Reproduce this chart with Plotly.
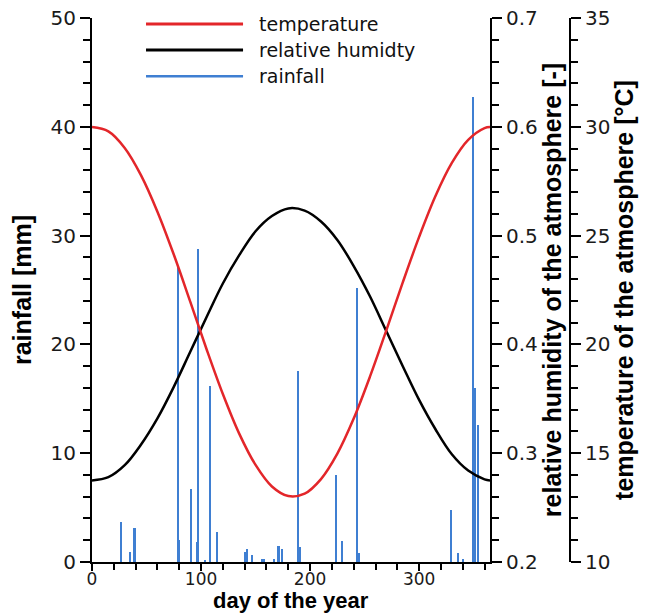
import plotly.graph_objects as go

# ---------------- data ----------------
curve_days = [0, 15, 30, 45, 60, 75, 90, 105, 120, 135, 150, 165, 180,
              195, 210, 225, 240, 255, 270, 285, 300, 315, 330, 345, 360, 365]
temperature = [29.99, 29.79, 29.03, 27.77, 26.10, 24.13, 21.98, 19.79, 17.72,
               15.90, 14.46, 13.47, 13.03, 13.14, 13.81, 14.98, 16.59, 18.53,
               20.66, 22.85, 24.94, 26.82, 28.34, 29.40, 29.94, 29.99]
humidity = [0.275, 0.278, 0.289, 0.308, 0.332, 0.361, 0.393, 0.425, 0.456,
            0.482, 0.504, 0.518, 0.525, 0.523, 0.513, 0.496, 0.472, 0.444,
            0.412, 0.380, 0.349, 0.322, 0.299, 0.284, 0.276, 0.275]

rain_days = [27, 35, 39, 79, 80, 91, 96, 97, 104, 108, 115, 140, 142, 147,
             156, 158, 167, 171, 174, 189, 191, 224, 229, 243, 245, 329,
             336, 340, 349, 351, 354]
rainfall = [3.7, 0.9, 3.1, 27.2, 2.0, 6.7, 1.8, 28.8, 0.2, 16.2, 2.8, 0.9,
            1.2, 0.6, 0.3, 0.3, 0.3, 1.5, 1.2, 17.6, 1.4, 8.0, 1.9, 25.2,
            0.8, 4.8, 0.85, 0.3, 42.7, 16.0, 12.6]

legend_names = ["temperature", "relative humidty", "rainfall"]

RED = "#e3262a"
BLACK = "#000000"
BLUE = "#3f7fd2"

TICK_FONT = dict(family="DejaVu Sans", size=20, color="#1a1a1a")
TITLE_FONT = dict(family="Liberation Sans, Arial", size=25, color="#000000")

fig = go.Figure()

fig.add_trace(go.Bar(x=rain_days, y=rainfall, width=1.9,
                     marker=dict(color=BLUE, line=dict(width=0)),
                     name=legend_names[2], showlegend=False))
fig.add_trace(go.Scatter(x=curve_days, y=humidity, mode="lines",
                         line=dict(color=BLACK, width=2.5, shape="spline"),
                         yaxis="y2", name=legend_names[1], showlegend=False))
fig.add_trace(go.Scatter(x=curve_days, y=temperature, mode="lines",
                         line=dict(color=RED, width=2.5, shape="spline"),
                         yaxis="y3", name=legend_names[0], showlegend=False))

common = dict(showline=True, linecolor="black", linewidth=2, ticks="outside",
              tickcolor="black", tickwidth=1.5, ticklen=10, showgrid=False,
              zeroline=False, tickfont=TICK_FONT)

XD = 398 / 478

fig.update_layout(
    template="none",
    width=652, height=613,
    margin=dict(l=92, r=82, t=18, b=51),
    paper_bgcolor="white", plot_bgcolor="white",
    showlegend=False,
    bargap=0,
    xaxis=dict(domain=[0, XD], range=[0, 365], tick0=0, dtick=100,
               minor=dict(dtick=20, ticklen=6, tickcolor="black", ticks="outside"),
               ticklabelstandoff=-6,
               **{**common, "ticklen": 7,
                  "tickfont": dict(family="DejaVu Sans", size=17, color="#1a1a1a")}),
    yaxis=dict(range=[0, 50], tick0=0, dtick=10,
               minor=dict(dtick=2, ticklen=7, tickcolor="black", ticks="outside"),
               title=dict(text="<b>rainfall [mm]</b>", font=TITLE_FONT, standoff=12),
               **common),
    yaxis2=dict(overlaying="y", side="right", anchor="x", range=[0.2, 0.7],
                tick0=0.2, dtick=0.1, tickformat=".1f",
                minor=dict(dtick=0.02, ticklen=7, tickcolor="black", ticks="outside"),
                title=dict(text="<b>relative humidity of the atmosphere [-]</b>",
                           font=TITLE_FONT, standoff=4),
                **common),
    yaxis3=dict(overlaying="y", side="right", anchor="free", position=1.0,
                range=[10, 35], tick0=10, dtick=5,
                minor=dict(dtick=1, ticklen=7, tickcolor="black", ticks="outside"),
                title=dict(text="<b>temperature of the atmosphere [°C]</b>",
                           font=TITLE_FONT, standoff=4),
                **common),
)

# x-axis title placed at the very bottom (as in the reference)
fig.add_annotation(xref="x domain", yref="paper", x=0.5, y=-0.097,
                   text="<b>day of the year</b>", showarrow=False,
                   xanchor="center", yanchor="bottom",
                   font=dict(family="Liberation Sans, Arial", size=22, color="#000000"))

# manual legend (long line samples as in the reference)
leg_colors = [RED, BLACK, BLUE]
leg_widths = [3, 3, 2.5]
leg_y = [0.989, 0.941, 0.893]
for name, col, lw, yy in zip(legend_names, leg_colors, leg_widths, leg_y):
    fig.add_shape(type="line", xref="paper", yref="paper",
                  x0=0.113, x1=0.316, y0=yy, y1=yy,
                  line=dict(color=col, width=lw))
    fig.add_annotation(xref="paper", yref="paper", x=0.345, y=yy,
                       text=name, showarrow=False, xanchor="left",
                       yanchor="middle",
                       font=dict(family="DejaVu Sans", size=19, color="#111111"))

fig.write_html("out.html")
